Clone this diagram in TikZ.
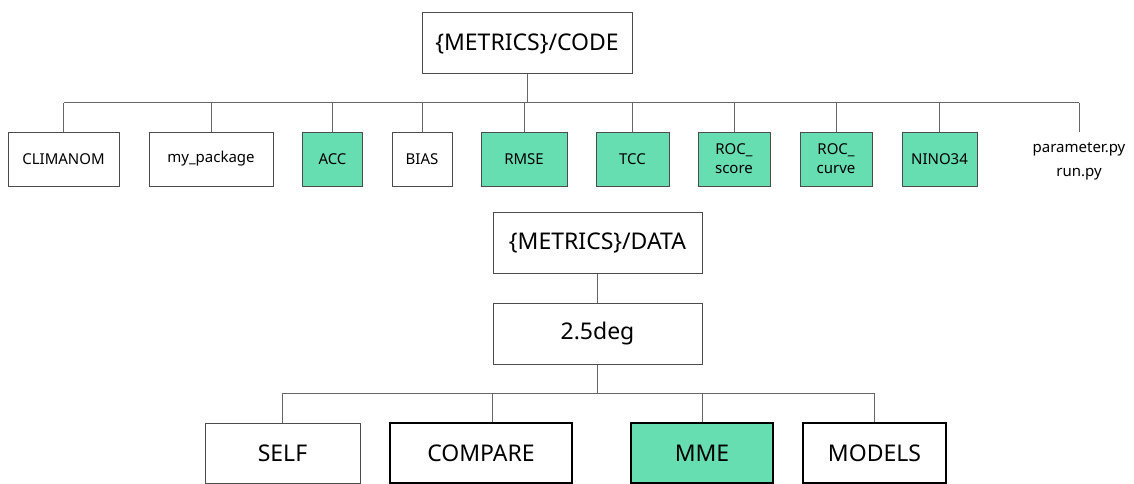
\documentclass[tikz,border=0pt]{standalone}
\usepackage{fontspec}
\setmainfont{Noto Sans}
\definecolor{mint}{HTML}{67DDB2}

\begin{document}
\begin{tikzpicture}[
    x=1pt, y=-1pt,
    box/.style={rectangle, draw=black!70, line width=1pt, inner sep=0pt, align=center},
    leafbox/.style={box, minimum height=54pt, font=\fontsize{15}{19}\selectfont},
    metricbox/.style={leafbox, fill=mint},
    dirbox/.style={box, minimum height=61pt, font=\fontsize{23}{28}\selectfont},
    thickbox/.style={dirbox, draw=black, line width=2pt},
    filenode/.style={rectangle, inner sep=0pt, align=center, font=\fontsize{15}{24}\selectfont},
    branch/.style={draw=black!60, line width=1pt}
]
\useasboundingbox (0,0) rectangle (1134,484);

% code folder
\node[dirbox, minimum width=210pt] (code) at (527,43.5) {\{METRICS\}/CODE};
\coordinate (busL) at (64,103);
\coordinate (busR) at (1079,103);

% code contents
\node[leafbox, minimum width=111pt] (climanom) at (63.5,159) {CLIMANOM};
\node[leafbox, minimum width=124pt] (mypkg) at (211,159) {my\_package};
\node[metricbox, minimum width=60pt] (acc) at (332.5,159) {ACC};
\node[leafbox, minimum width=60pt] (bias) at (422,159) {BIAS};
\node[metricbox, minimum width=86pt] (rmse) at (524,159) {RMSE};
\node[metricbox, minimum width=73pt] (tcc) at (632.5,159) {TCC};
\node[metricbox, minimum width=72pt] (rocs) at (734,159) {ROC\_\\score};
\node[metricbox, minimum width=72pt] (rocc) at (836,159) {ROC\_\\curve};
\node[metricbox, minimum width=75pt] (nino) at (939.5,159) {NINO34};
\node[filenode] (files) at (1079,161) {parameter.py\\run.py};
\coordinate (filetop) at (1079,132);

% code tree
\draw[branch] (busL)--(busR);
\draw[branch] (code.south)--(code.south |- busL);
\draw[branch] (climanom.north)--(climanom.north |- busL);
\draw[branch] (mypkg.north)--(mypkg.north |- busL);
\draw[branch] (acc.north)--(acc.north |- busL);
\draw[branch] (bias.north)--(bias.north |- busL);
\draw[branch] (rmse.north)--(rmse.north |- busL);
\draw[branch] (tcc.north)--(tcc.north |- busL);
\draw[branch] (rocs.north)--(rocs.north |- busL);
\draw[branch] (rocc.north)--(rocc.north |- busL);
\draw[branch] (nino.north)--(nino.north |- busL);
\draw[branch] (busR)--(filetop);

% data folder
\node[dirbox, minimum width=209pt] (data) at (597.5,243) {\{METRICS\}/DATA};
\node[dirbox, minimum width=209pt] (res) at (597.5,333.5) {2.5deg};
\coordinate (busBL) at (282.5,393);
\coordinate (busBR) at (874.5,393);

% data contents
\node[dirbox, minimum width=155pt, minimum height=60pt] (self) at (282.5,453) {SELF};
\node[thickbox, minimum width=182pt, minimum height=60pt] (compare) at (481,453) {COMPARE};
\node[thickbox, fill=mint, minimum width=142pt, minimum height=60pt] (mme) at (702,453) {MME};
\node[thickbox, minimum width=143pt, minimum height=60pt] (models) at (874.5,453) {MODELS};

% data tree
\draw[branch] (data)--(res);
\draw[branch] (busBL)--(busBR);
\draw[branch] (res.south)--(res.south |- busBL);
\draw[branch] (self.north)--(self.north |- busBL);
\draw[branch] (compare.north -| data.west)--(data.west |- busBL);
\draw[branch] (mme.north)--(mme.north |- busBL);
\draw[branch] (models.north)--(models.north |- busBL);

\end{tikzpicture}
\end{document}
